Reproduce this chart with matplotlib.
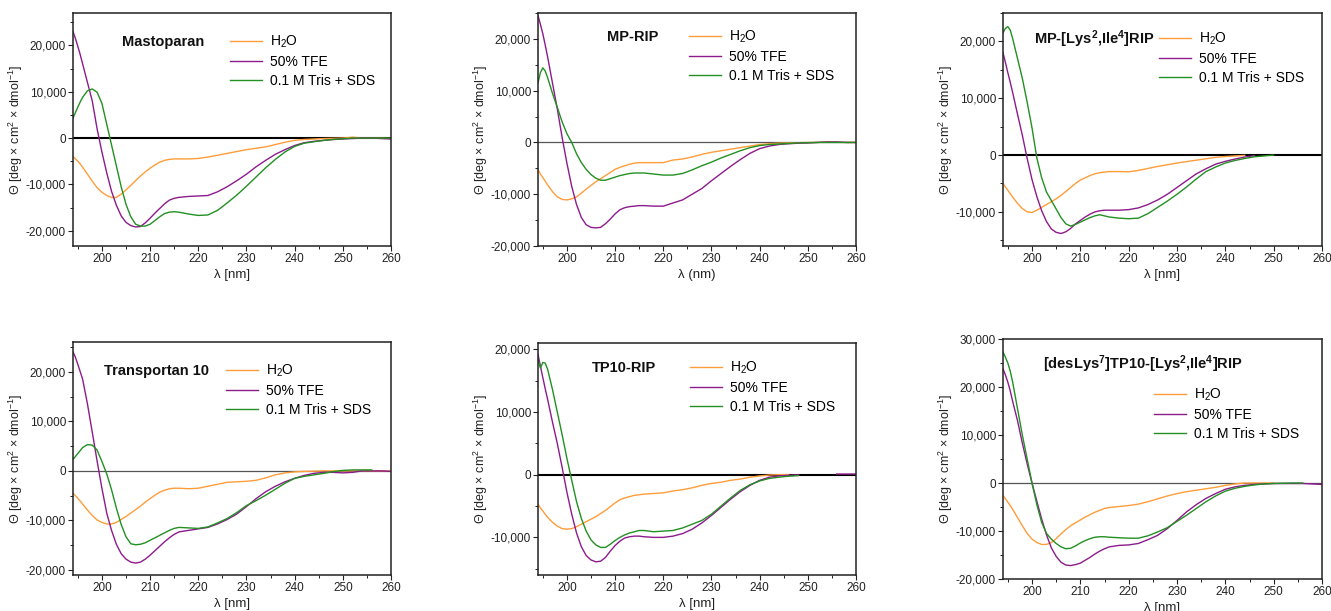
import numpy as np
import matplotlib
matplotlib.use("Agg")
import matplotlib.pyplot as plt
from matplotlib.ticker import MultipleLocator, FuncFormatter

plt.rcParams["font.family"] = ["Liberation Sans", "DejaVu Sans"]
plt.rcParams["mathtext.fontset"] = "custom"
plt.rcParams["mathtext.rm"] = "Liberation Sans"
plt.rcParams["mathtext.it"] = "Liberation Sans:italic"
plt.rcParams["mathtext.bf"] = "Liberation Sans:bold"

nan = np.nan

# wavelength grid (nm)
WL = [194, 194.5, 195, 195.5, 196] + list(range(197, 217)) + list(range(218, 261, 2))

LABELS = ["H$_2$O", "50% TFE", "0.1 M Tris + SDS"]
COLORS = ["#FF9D3A", "#8C1B8C", "#229022"]

# ---- Mastoparan ----
mast_h2o = [-4000, -4500, -5000, -5600, -6300,
            -7800, -9300, -10700, -11700, -12400, -12800, -12800, -12100, -11200, -10200,
            -9200, -8200, -7300, -6500, -5800, -5200, -4800, -4600, -4500, -4500,
            -4500, -4400, -4100, -3700, -3300, -2900, -2500, -2200, -1900, -1400, -900,
            -500, -300, -200, -100, -50, 0, 200, 0, 0, 0, -100]
mast_tfe = [23000, 21500, 19800, 18000, 16000,
            12000, 8000, 2000, -3000, -7500, -11500, -14500, -16800, -18200, -18900,
            -19200, -19100, -18300, -17300, -16200, -15200, -14200, -13400, -13000, -12800,
            -12600, -12500, -12400, -11600, -10500, -9200, -7800, -6200, -4800, -3500, -2500,
            -1600, -1000, -700, -500, -300, -200, -100, 0, 0, -100, -200]
mast_sds = [4300, 5500, 6700, 7800, 8800,
            10200, 10600, 9900, 7500, 3000, -1500, -6000, -10500, -14300, -17000,
            -18600, -19000, -19000, -18600, -17800, -17000, -16300, -16000, -15900, -16000,
            -16400, -16700, -16600, -15600, -14000, -12300, -10400, -8400, -6400, -4600, -3000,
            -1800, -1100, -800, -500, -300, -150, 0, 0, 0, 0, 0]

# ---- MP-RIP ----
mprip_h2o = [-5300, -6100, -6800, -7500, -8200,
             -9500, -10500, -11000, -11100, -10900, -10500, -9800, -9000, -8300, -7600,
             -7000, -6400, -5800, -5200, -4800, -4500, -4200, -4000, -3900, -3900,
             -3900, -3900, -3400, -3200, -2800, -2300, -1900, -1600, -1300, -1000, -700,
             -400, -250, -150, -100, -50, 0, 0, 100, 50, 0, 0]
mprip_tfe = [24500, 22800, 21000, 18800, 16500,
             11500, 6500, 1000, -4000, -8500, -12000, -14500, -15900, -16400, -16500,
             -16400, -15700, -14800, -13800, -13000, -12600, -12400, -12300, -12200, -12200,
             -12300, -12300, -11700, -11100, -10000, -8900, -7400, -6000, -4600, -3300, -2100,
             -1200, -700, -400, -250, -150, -100, 0, 100, 100, 0, 0]
mprip_sds = [11500, 13500, 14400, 13800, 12500,
             9500, 6800, 4000, 1700, 0, -2200, -3900, -5200, -6200, -6900,
             -7300, -7300, -7000, -6700, -6400, -6200, -6000, -5900, -5900, -5900,
             -6100, -6300, -6300, -6000, -5300, -4500, -3800, -3000, -2300, -1600, -1000,
             -600, -400, -300, -200, -100, -50, 0, 0, 0, 0, 0]

# ---- MP-[Lys2,Ile4]RIP ----
mpli_h2o = [-5000, -5600, -6200, -6800, -7400,
            -8500, -9400, -10000, -10100, -9700, -9200, -8700, -8200, -7700, -7100,
            -6400, -5700, -5000, -4400, -4000, -3600, -3300, -3100, -3000, -2900,
            -2900, -2950, -2700, -2350, -2000, -1700, -1400, -1150, -900, -650, -400,
            -250, -150, -50, nan, nan, nan, nan, nan, nan, nan, nan]
mpli_tfe = [18000, 16300, 14500, 12800, 11000,
            7200, 3500, -600, -4300, -7300, -9800, -11700, -13000, -13600, -13800,
            -13500, -12900, -12100, -11500, -10900, -10400, -10000, -9800, -9700, -9700,
            -9700, -9600, -9300, -8700, -7900, -6900, -5700, -4500, -3300, -2400, -1600,
            -1100, -700, -350, -100, nan, nan, nan, nan, nan, nan, nan]
mpli_sds = [21500, 22300, 22600, 22000, 20500,
            17000, 13500, 9300, 4800, -500, -4000, -6500, -8000, -9500, -11000,
            -12100, -12500, -12200, -11800, -11400, -11000, -10700, -10500, -10700, -10900,
            -11100, -11200, -11100, -10300, -9200, -8100, -6900, -5600, -4200, -2900, -2100,
            -1400, -950, -600, -300, -150, 0, nan, nan, nan, nan, nan]

# ---- Transportan 10 ----
tp10_h2o = [-4500, -5000, -5500, -6100, -6700,
            -7900, -9000, -9900, -10400, -10700, -10700, -10400, -9800, -9200, -8500,
            -7800, -7100, -6300, -5600, -4900, -4300, -3900, -3600, -3500, -3500,
            -3600, -3500, -3100, -2700, -2300, -2200, -2100, -1900, -1400, -800, -400,
            -200, -100, -50, 0, 0, 0, 0, 0, 0, 0, 0]
tp10_tfe = [24000, 22900, 21500, 20000, 18500,
            13500, 7800, 2000, -3500, -8500, -12000, -14800, -16700, -17800, -18400,
            -18600, -18400, -17800, -17000, -16100, -15200, -14300, -13500, -12800, -12300,
            -12000, -11700, -11400, -10700, -9800, -8700, -7200, -5600, -4200, -3100, -2200,
            -1500, -900, -500, -300, -300, -400, -300, 0, 0, 0, -100]
tp10_sds = [2300, 2900, 3500, 4100, 4700,
            5300, 5200, 4200, 1900, -600, -3800, -7500, -10800, -13300, -14700,
            -14900, -14800, -14500, -14000, -13500, -13000, -12500, -12000, -11600, -11400,
            -11500, -11600, -11300, -10500, -9600, -8400, -7000, -6000, -4900, -3700, -2500,
            -1500, -1100, -800, -500, -150, 100, 200, 200, 200, nan, nan]

# ---- TP10-RIP ----
tprip_h2o = [-4700, -5300, -5800, -6300, -6800,
             -7600, -8200, -8600, -8700, -8600, -8300, -7900, -7500, -7100, -6700,
             -6200, -5700, -5100, -4500, -4000, -3700, -3500, -3300, -3200, -3100,
             -3000, -2900, -2600, -2400, -2100, -1700, -1400, -1200, -900, -700, -400,
             -200, -50, 0, 0, nan, nan, nan, nan, nan, nan, nan]
tprip_tfe = [19200, 17300, 15500, 13700, 12000,
             8400, 5000, 1200, -2800, -6300, -9300, -11500, -12900, -13600, -13900,
             -13800, -13200, -12200, -11300, -10600, -10100, -9900, -9800, -9800, -9900,
             -10000, -10000, -9800, -9400, -8700, -7700, -6500, -5200, -3900, -2700, -1700,
             -900, -400, -200, -100, 0, nan, nan, nan, 100, 100, 100]
tprip_sds = [18400, 17000, 17900, 17800, 16800,
             13600, 10000, 6400, 2600, -900, -4300, -7000, -9000, -10400, -11200,
             -11600, -11600, -11100, -10500, -10000, -9600, -9300, -9100, -8900, -8900,
             -9100, -9000, -8900, -8500, -7900, -7300, -6300, -5000, -3700, -2500, -1600,
             -1000, -600, -400, -250, -150, nan, nan, nan, nan, nan, nan]

# ---- [desLys7]TP10-[Lys2,Ile4]RIP ----
des_h2o = [-2600, -3300, -4000, -4700, -5500,
           -7200, -8900, -10500, -11700, -12400, -12800, -12800, -12400, -11600, -10600,
           -9700, -8900, -8300, -7700, -7100, -6600, -6100, -5700, -5300, -5100,
           -4900, -4700, -4400, -3900, -3300, -2700, -2200, -1800, -1500, -1200, -900,
           -500, -200, 0, 0, 0, 0, nan, nan, nan, nan, nan]
des_tfe = [23800, 22500, 21000, 19200, 17000,
           13000, 8300, 4000, 0, -3800, -7500, -10800, -13500, -15300, -16500,
           -17100, -17200, -17000, -16700, -16100, -15500, -14800, -14200, -13700, -13300,
           -13000, -12900, -12600, -11800, -10900, -9500, -7800, -6000, -4500, -3200, -2200,
           -1300, -800, -500, -300, -200, -100, -100, -100, -100, -200, -300]
des_sds = [27300, 26200, 25000, 23300, 21000,
           15500, 10000, 5000, 0, -4500, -8200, -10500, -11700, -12600, -13300,
           -13700, -13600, -13100, -12500, -12000, -11600, -11300, -11200, -11200, -11300,
           -11400, -11500, -11500, -11000, -10200, -9300, -8000, -6700, -5300, -3900, -2700,
           -1700, -1100, -700, -400, -200, -100, -50, 0, 0, nan, nan]

panels = [
    dict(title="Mastoparan", data=[mast_h2o, mast_tfe, mast_sds], xlabel="λ [nm]",
         box=(73, 13, 391, 246), ylim=(-23300, 27000), zero=("black", 1.5),
         title_xy=(122, 42), leg_xy=(230, 42)),
    dict(title="MP-RIP", data=[mprip_h2o, mprip_tfe, mprip_sds], xlabel="λ (nm)",
         box=(538, 13, 856, 246), ylim=(-20000, 25000), zero=("#555555", 0.9),
         title_xy=(607, 37), leg_xy=(689, 37)),
    dict(title="MP-[Lys$^\\mathbf{2}$,Ile$^\\mathbf{4}$]RIP", data=[mpli_h2o, mpli_tfe, mpli_sds],
         xlabel="λ [nm]", box=(1003, 13, 1322, 246), ylim=(-16000, 25000), zero=("black", 1.5),
         title_xy=(1034, 39), leg_xy=(1159, 39)),
    dict(title="Transportan 10", data=[tp10_h2o, tp10_tfe, tp10_sds], xlabel="λ [nm]",
         box=(73, 342, 391, 575), ylim=(-21000, 26000), zero=("#555555", 0.9),
         title_xy=(104, 371), leg_xy=(226, 371)),
    dict(title="TP10-RIP", data=[tprip_h2o, tprip_tfe, tprip_sds], xlabel="λ [nm]",
         box=(538, 343, 856, 575), ylim=(-16000, 21000), zero=("black", 1.5),
         title_xy=(592, 368), leg_xy=(690, 368)),
    dict(title="[desLys$^\\mathbf{7}$]TP10-[Lys$^\\mathbf{2}$,Ile$^\\mathbf{4}$]RIP",
         data=[des_h2o, des_tfe, des_sds], xlabel="λ [nm]",
         box=(1003, 339, 1322, 579), ylim=(-20000, 30000), zero=("#555555", 0.9),
         title_xy=(1043, 364), leg_xy=(1154, 395)),
]

W, H = 1331, 611
fig = plt.figure(figsize=(W / 100, H / 100), dpi=100)
fig.patch.set_facecolor("white")

fmt = FuncFormatter(lambda v, p: f"{v:,.0f}")

for p in panels:
    l, t, r, b = p["box"]
    ax = fig.add_axes([l / W, 1 - b / H, (r - l) / W, (b - t) / H])
    ax.axhline(0, color=p["zero"][0], lw=p["zero"][1], zorder=1)
    for vals, lab, col in zip(p["data"], LABELS, COLORS):
        ax.plot(WL, np.array(vals, dtype=float), color=col, lw=1.0, label=lab, zorder=2)

    ax.set_xlim(194, 260)
    ax.set_ylim(*p["ylim"])
    ax.xaxis.set_major_locator(MultipleLocator(10))
    ax.xaxis.set_minor_locator(MultipleLocator(5))
    ax.yaxis.set_major_locator(MultipleLocator(10000))
    ax.yaxis.set_minor_locator(MultipleLocator(5000))
    ax.yaxis.set_major_formatter(fmt)
    ax.tick_params(which="major", direction="out", length=3.5, width=0.8,
                   labelsize=8.5, colors="#222222", pad=1.5)
    ax.tick_params(which="minor", direction="out", length=2, width=0.7, colors="#222222")
    for s in ax.spines.values():
        s.set_linewidth(1.1)
        s.set_color("#222222")

    ax.set_xlabel(p["xlabel"], fontsize=9.5, color="#222222", labelpad=3)
    ax.set_ylabel("Θ [deg × cm$^2$ × dmol$^{-1}$]", fontsize=9, color="#222222")
    ax.yaxis.set_label_coords(-0.152, 0.5)

    tx, ty = p["title_xy"]
    ax.text((tx - l) / (r - l), 1 - (ty - t) / (b - t), p["title"], transform=ax.transAxes,
            ha="left", va="center", fontsize=10.5, fontweight="bold", color="#111111")

    lx, ly = p["leg_xy"]
    ax.legend(loc="upper left", bbox_to_anchor=((lx - l) / (r - l), 1 - (ly - 8 - t) / (b - t)),
              frameon=False, fontsize=10, handlelength=2.3, handletextpad=0.6,
              labelspacing=0.35, borderpad=0, borderaxespad=0)

fig.savefig("out.png", dpi=100, facecolor="white")
